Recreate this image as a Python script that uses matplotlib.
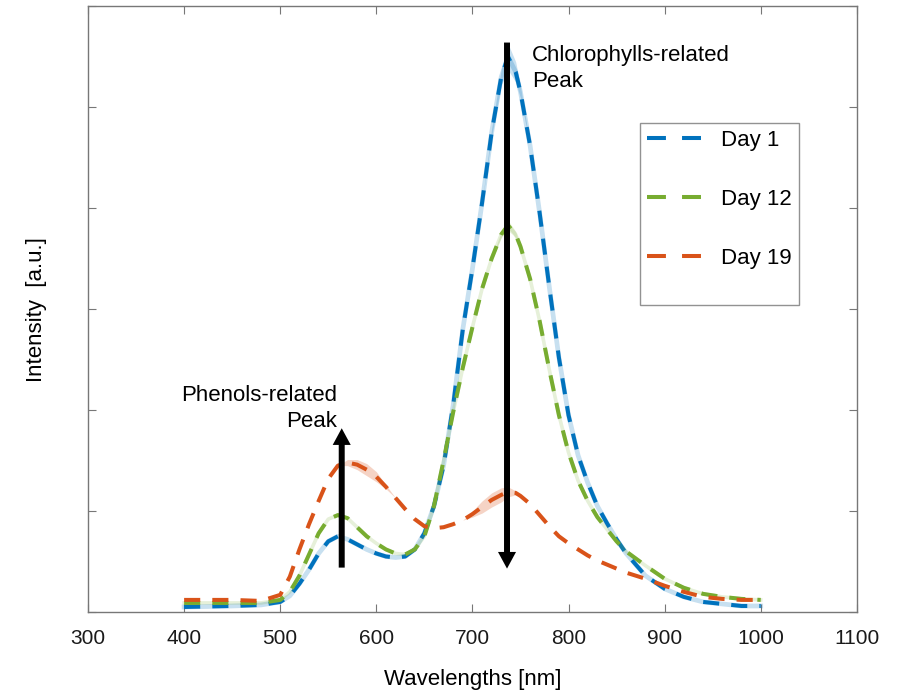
import numpy as np
import matplotlib.pyplot as plt
from matplotlib.lines import Line2D

plt.rcParams['font.family'] = ['Liberation Sans', 'DejaVu Sans']

# wavelengths [nm]
wl = [400, 450, 480, 500, 510, 520, 530, 540, 550, 560, 570, 580, 590, 600,
      610, 620, 630, 640, 650, 660, 670, 680, 690, 700, 710, 720, 730, 737,
      745, 750, 760, 770, 780, 790, 800, 810, 820, 830, 840, 850, 860, 880,
      900, 920, 940, 960, 980, 1000]

day1 = [0.05, 0.06, 0.07, 0.10, 0.16, 0.28, 0.42, 0.58, 0.70, 0.75, 0.72,
        0.67, 0.62, 0.58, 0.55, 0.54, 0.55, 0.62, 0.78, 1.05, 1.45, 2.05,
        2.80, 3.40, 4.05, 4.75, 5.30, 5.50, 5.35, 5.15, 4.62, 3.95, 3.22,
        2.52, 1.95, 1.55, 1.28, 1.05, 0.88, 0.72, 0.58, 0.36, 0.23, 0.15,
        0.10, 0.08, 0.06, 0.06]

day12 = [0.09, 0.09, 0.09, 0.12, 0.20, 0.36, 0.57, 0.78, 0.92, 0.96, 0.93,
         0.84, 0.75, 0.68, 0.62, 0.58, 0.57, 0.62, 0.75, 1.05, 1.50, 1.98,
         2.42, 2.82, 3.20, 3.50, 3.74, 3.83, 3.74, 3.62, 3.30, 2.88, 2.40,
         1.95, 1.58, 1.30, 1.10, 0.94, 0.82, 0.70, 0.60, 0.46, 0.33, 0.24,
         0.18, 0.15, 0.13, 0.12]

day19 = [0.12, 0.12, 0.11, 0.17, 0.35, 0.62, 0.87, 1.10, 1.32, 1.45, 1.48,
         1.46, 1.41, 1.34, 1.24, 1.13, 1.02, 0.92, 0.85, 0.83, 0.84, 0.87,
         0.91, 0.97, 1.04, 1.11, 1.16, 1.19, 1.18, 1.15, 1.07, 0.96, 0.85,
         0.75, 0.68, 0.62, 0.56, 0.51, 0.47, 0.43, 0.39, 0.33, 0.26, 0.20,
         0.15, 0.13, 0.12, 0.12]

# spread (shaded band) around each curve
sd1 = [0, 0, 0, 0, 0, 0, 0, 0, 0, 0,
       0, 0, 0, 0, 0, 0, 0, 0, 0, 0,
       0, 0, 0, 0, 0, 0.04, 0.08, 0.13, 0.10, 0.06,
       0, 0, 0, 0, 0, 0, 0, 0, 0, 0,
       0, 0, 0, 0, 0, 0, 0, 0]
sd12 = [0, 0, 0, 0, 0, 0, 0, 0, 0, 0,
        0, 0, 0, 0, 0, 0, 0, 0, 0, 0,
        0, 0, 0, 0, 0, 0, 0.03, 0.05, 0.03, 0,
        0, 0, 0, 0, 0, 0, 0, 0, 0, 0,
        0, 0, 0, 0, 0, 0, 0, 0]
sd19 = [0, 0, 0, 0, 0, 0, 0, 0, 0, 0,
        0.03, 0.05, 0.06, 0.05, 0.02, 0, 0, 0, 0, 0,
        0, 0, 0, 0.03, 0.06, 0.07, 0.07, 0.05, 0.02, 0,
        0, 0, 0, 0, 0, 0, 0, 0, 0, 0,
        0, 0, 0, 0, 0, 0, 0, 0]

labels = ['Day 1', 'Day 12', 'Day 19']
colors = ['#0072BD', '#77AC30', '#D95319']
band_lw = [3.4, 2.6, 0]
band_alpha = [0.22, 0.18, 0.25]

fig = plt.figure(figsize=(9.12, 6.9), dpi=100)
ax = fig.add_axes([0.0965, 0.113, 0.843, 0.878])

handles = []
for y, sd, c, lab, blw, ba in zip([day1, day12, day19], [sd1, sd12, sd19],
                                  colors, labels, band_lw, band_alpha):
    y = np.array(y)
    sd = np.array(sd)
    ax.fill_between(wl, y - sd, y + sd, color=c, alpha=ba, lw=0)
    if blw > 0:
        ax.plot(wl, y, color=c, lw=blw, alpha=ba)
    ax.plot(wl, y, color=c, lw=2.9, dashes=(4.0, 3.0))
    handles.append(Line2D([], [], color=c, lw=2.9, dashes=(4.7, 4.0)))
    handles.append(Line2D([], [], linestyle='none'))

# arrows for the peaks
ax.annotate('', xy=(564, 1.82), xytext=(564, 0.44),
            arrowprops=dict(facecolor='black', edgecolor='none', width=4.3,
                            headwidth=13, headlength=12, shrink=0))
ax.annotate('', xy=(736, 0.43), xytext=(736, 5.64),
            arrowprops=dict(facecolor='black', edgecolor='none', width=4.3,
                            headwidth=13, headlength=12, shrink=0))
ax.text(559, 2.25, 'Phenols-related\nPeak', ha='right', va='top', fontsize=16,
        multialignment='right', linespacing=1.35)
ax.text(762, 5.62, 'Chlorophylls-related\nPeak', ha='left', va='top',
        fontsize=16, linespacing=1.35)

ax.set_xlim(300, 1100)
ax.set_ylim(0, 6)
ax.set_xticks(range(300, 1101, 100))
ax.set_yticks(range(0, 7))
ax.set_yticklabels([])
ax.tick_params(direction='in', length=5.5, width=0.8, colors='#777777',
               labelcolor='#1a1a1a', labelsize=15, top=True, right=True)
ax.tick_params(axis='x', pad=12)
for s in ax.spines.values():
    s.set_color('#777777')
    s.set_linewidth(1.0)

ax.set_xlabel('Wavelengths [nm]', fontsize=16, labelpad=15)
ax.set_ylabel('Intensity  [a.u.]', fontsize=16, labelpad=26)

leg_labels = ['Day 1', '', 'Day 12', '', 'Day 19', '']
leg = ax.legend(handles=handles, labels=leg_labels, loc='upper left',
                bbox_to_anchor=(0.718, 0.807), fontsize=16, frameon=True,
                fancybox=False, borderpad=0.3, labelspacing=0.38,
                handlelength=2.45, handletextpad=0.9, borderaxespad=0)
leg.get_frame().set_edgecolor('#777777')
leg.get_frame().set_linewidth(1.0)

fig.savefig('out.png', dpi=100)
